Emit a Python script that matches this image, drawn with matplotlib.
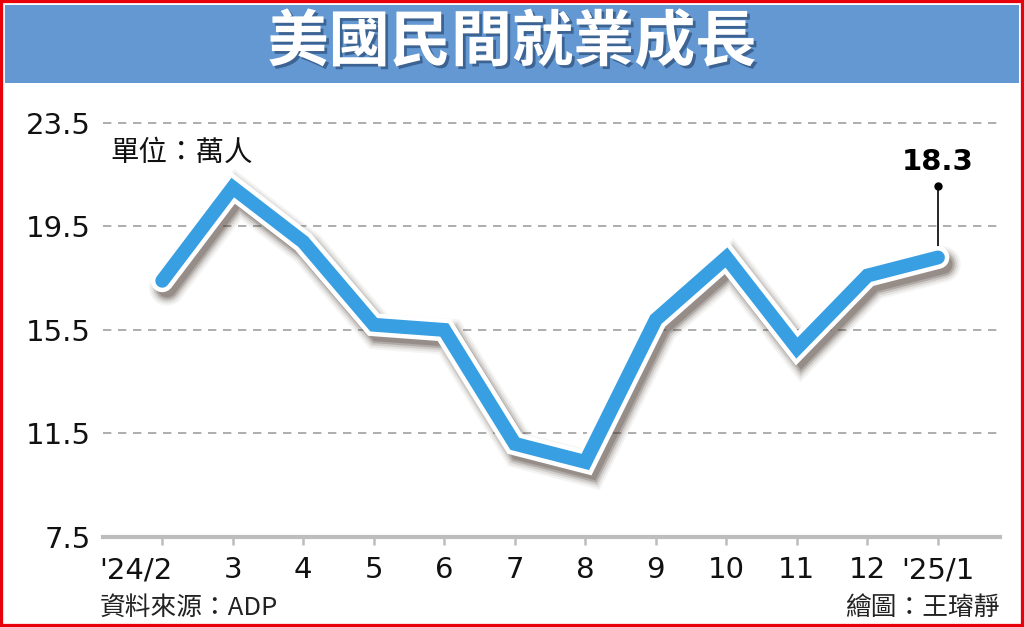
import matplotlib
matplotlib.use('Agg')
import matplotlib.pyplot as plt
import matplotlib.patheffects as pe
from matplotlib.patches import Rectangle
from matplotlib.transforms import ScaledTranslation

plt.rcParams['font.family'] = ['Noto Sans CJK TC', 'DejaVu Sans']

# 資料 (萬人)
months = ["'24/2", '3', '4', '5', '6', '7', '8', '9', '10', '11', '12', "'25/1"]
jobs = [17.4, 21.0, 18.9, 15.7, 15.5, 11.1, 10.4, 15.9, 18.3, 14.8, 17.6, 18.3]
yticks = [7.5, 11.5, 15.5, 19.5, 23.5]
title = '美國民間就業成長'
unit = '單位：萬人'
source = '資料來源：ADP'
credit = '繪圖：王璿靜'

W, H = 1024, 627
fig = plt.figure(figsize=(W / 100, H / 100), dpi=100)


def fx(px):
    return px / W


def fy(py):
    return 1 - py / H


# 外框與標題列
fig.patches.append(Rectangle((0, 0), 1, 1, transform=fig.transFigure, fill=False,
                             ec='#e8000b', lw=4.5, zorder=10))
fig.patches.append(Rectangle((fx(5), fy(83)), (1019 - 5) / W, (83 - 5) / H,
                             transform=fig.transFigure, fc='#6498d2', ec='none'))
fig.text(0.5, fy(43), title, ha='center', va='center', fontsize=44, weight='heavy',
         color='white',
         path_effects=[pe.SimplePatchShadow(offset=(2, -2), shadow_rgbFace='#2b4d78', alpha=0.7),
                       pe.Normal()])

ax = fig.add_axes([fx(103), fy(537), (1000 - 103) / W, (537 - 97) / H])
x = list(range(len(months)))
ax.set_xlim(-0.84, 11.88)
ax.set_ylim(7.5, 24.5)

for s in ['top', 'right', 'left']:
    ax.spines[s].set_visible(False)
ax.spines['bottom'].set_color('#bdbdbd')
ax.spines['bottom'].set_linewidth(3)

for yv in yticks[1:]:
    ax.axhline(yv, color='#a0a0a0', lw=1.2, ls=(0, (5, 4)), zorder=1)

ax.set_xticks(x)
ax.set_xticklabels(months, fontfamily='DejaVu Sans')
ax.set_yticks(yticks)
ax.set_yticklabels([f'{v:.1f}' for v in yticks], fontfamily='DejaVu Sans')
ax.tick_params(axis='x', length=6, width=1.8, color='#bdbdbd', pad=8, labelsize=21,
               labelcolor='#111111')
ax.tick_params(axis='y', length=0, pad=9, labelsize=21, labelcolor='#111111')
# 第一個標籤往左偏
lab0 = ax.get_xticklabels()[0]
lab0.set_transform(lab0.get_transform() + ScaledTranslation(-0.26, 0, fig.dpi_scale_trans))

shadow = [pe.SimpleLineShadow(offset=(3.5, -5), shadow_color='#3a2a20', alpha=a, linewidth=lw)
          for lw, a in [(26, 0.05), (23, 0.08), (20, 0.13), (17, 0.2), (14, 0.22)]]
ax.plot(x, jobs, color='#379fe2', lw=10, solid_joinstyle='miter', solid_capstyle='round',
        zorder=3,
        path_effects=shadow + [pe.Stroke(linewidth=16.5, foreground='white'), pe.Normal()])

# 最後一點標註
top = jobs[-1] + 2.75
ax.plot([x[-1], x[-1]], [jobs[-1], top], color='black', lw=1.2, zorder=2)
ax.plot([x[-1]], [top], 'o', color='black', ms=5, zorder=2)
ax.text(x[-1], top + 0.95, f'{jobs[-1]:.1f}', ha='center', va='center', fontsize=21,
        weight='bold', fontfamily='DejaVu Sans')

fig.text(fx(110), fy(153), unit, ha='left', va='center', fontsize=20.5, color='#111111')
fig.text(fx(100), fy(608), source, ha='left', va='center', fontsize=18.5, color='#222222')
fig.text(fx(1000), fy(608), credit, ha='right', va='center', fontsize=18.5, color='#222222')

fig.savefig('out.png', dpi=100)
